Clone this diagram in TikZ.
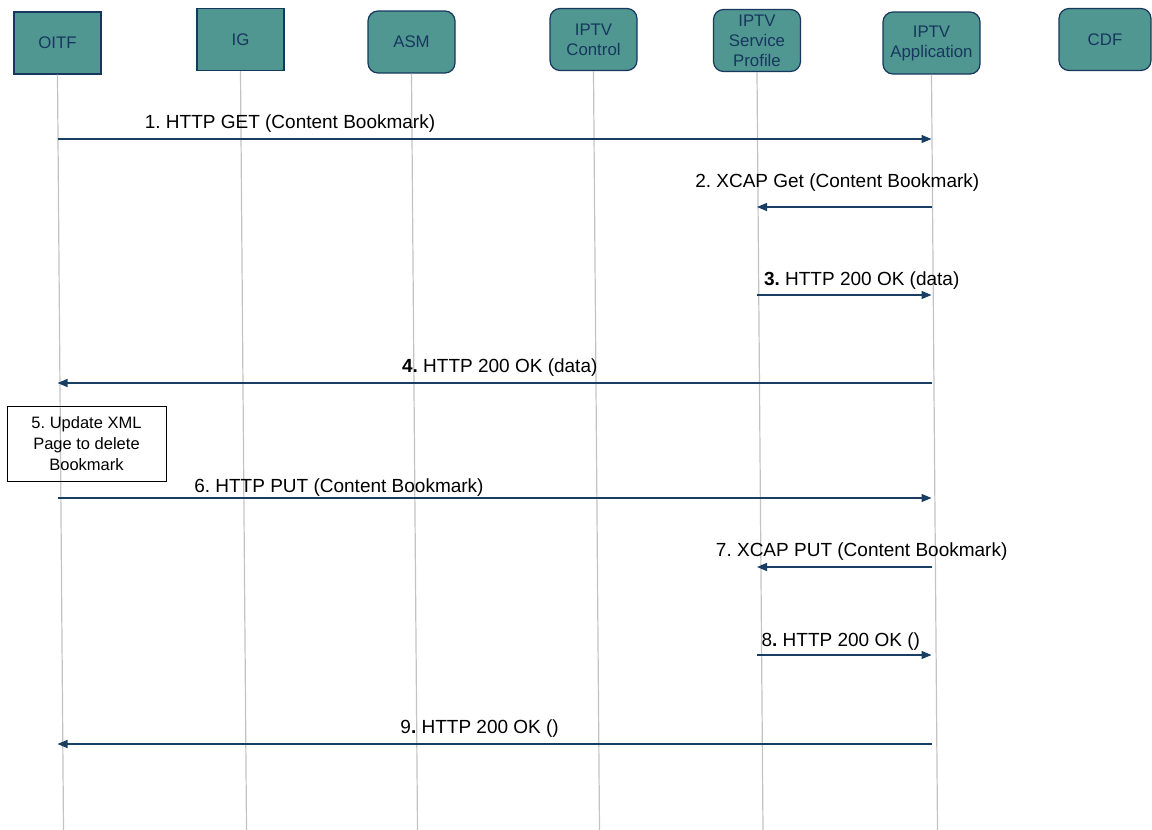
\documentclass[tikz,border=0pt]{standalone}
\usepackage{fontspec}
\setmainfont{Liberation Sans}
\frenchspacing
\usetikzlibrary{shapes, arrows.meta, positioning, calc}
\definecolor{entityfill}{RGB}{80,151,145}
\definecolor{entityline}{RGB}{23,55,94}
\definecolor{msgline}{RGB}{25,62,100}
\definecolor{lifegray}{RGB}{195,195,195}
\tikzstyle{entity} = [draw=entityline, fill=entityfill, line width=1.2pt, rectangle, minimum width=87pt, minimum height=62pt, inner sep=2pt, align=center, text=entityline, font=\fontsize{16.8}{20}\selectfont]
\tikzstyle{entityround} = [entity, rounded corners=10pt]
\tikzstyle{lifeline} = [draw=lifegray, line width=1.2pt]
\tikzstyle{message} = [draw=msgline, line width=1.3pt, -{Triangle[length=10pt,width=8pt]}]
\tikzstyle{msglabel} = [font=\fontsize{19}{22}\selectfont, inner sep=0pt, text=black]
\tikzstyle{note} = [draw=black, line width=0.8pt, rectangle, minimum width=159pt, minimum height=75pt, inner sep=2pt, align=center, font=\fontsize{16.5}{21}\selectfont]

\begin{document}
\begin{tikzpicture}[x=1pt, y=-1pt]
	\useasboundingbox (0,0) rectangle (1152,830);
	\node [entity] (oitf) at (57.5,43) {OITF};
	\node [entity] (ig) at (240.5,39.5) {IG};
	\node [entityround] (asm) at (411.5,42) {ASM};
	\node [entityround] (ctrl) at (593.5,39.5) {IPTV\\Control};
	\node [entityround] (prof) at (757,40.5) {IPTV\\Service\\Profile};
	\node [entityround, minimum width=97pt] (appl) at (931.5,43) {IPTV\\Application};
	\node [entityround, minimum width=92pt] (cdf) at (1105,39.5) {CDF};
	\foreach \n in {oitf,ig,asm,ctrl,prof,appl}
		\draw [lifeline] (\n.south) -- ($(\n.south |- 0,830)+(6,0)$);
	\draw [message] (oitf.south |- 0,139) -- node[msglabel, pos=0.266, above=6pt] {1. HTTP GET (Content Bookmark)} (appl.south |- 0,139);
	\draw [message] (appl.south |- 0,207) -- node[msglabel, pos=0.54, above=15pt] {2. XCAP Get (Content Bookmark)} (prof.south |- 0,207);
	\draw [message] (prof.south |- 0,295) -- node[msglabel, pos=0.6, above=5pt] {\textbf{3.} HTTP 200 OK (data)} (appl.south |- 0,295);
	\draw [message] (appl.south |- 0,383) -- node[msglabel, pos=0.494, above=6pt] {\textbf{4.} HTTP 200 OK (data)} (oitf.south |- 0,383);
	\node [note] (upd) at (86.5,443.5) {5. Update XML\\Page to delete\\Bookmark};
	\draw [message] (oitf.south |- 0,498) -- node[msglabel, pos=0.322, above=1pt] {6. HTTP PUT (Content Bookmark)} (appl.south |- 0,498);
	\draw [message] (appl.south |- 0,567) -- node[msglabel, pos=0.40, above=6pt] {7. XCAP PUT (Content Bookmark)} (prof.south |- 0,567);
	\draw [message] (prof.south |- 0,655) -- node[msglabel, pos=0.48, above=4pt] {8\textbf{.} HTTP 200 OK ()} (appl.south |- 0,655);
	\draw [message] (appl.south |- 0,744) -- node[msglabel, pos=0.517, above=6pt] {9\textbf{.} HTTP 200 OK ()} (oitf.south |- 0,744);
\end{tikzpicture}
\end{document}
